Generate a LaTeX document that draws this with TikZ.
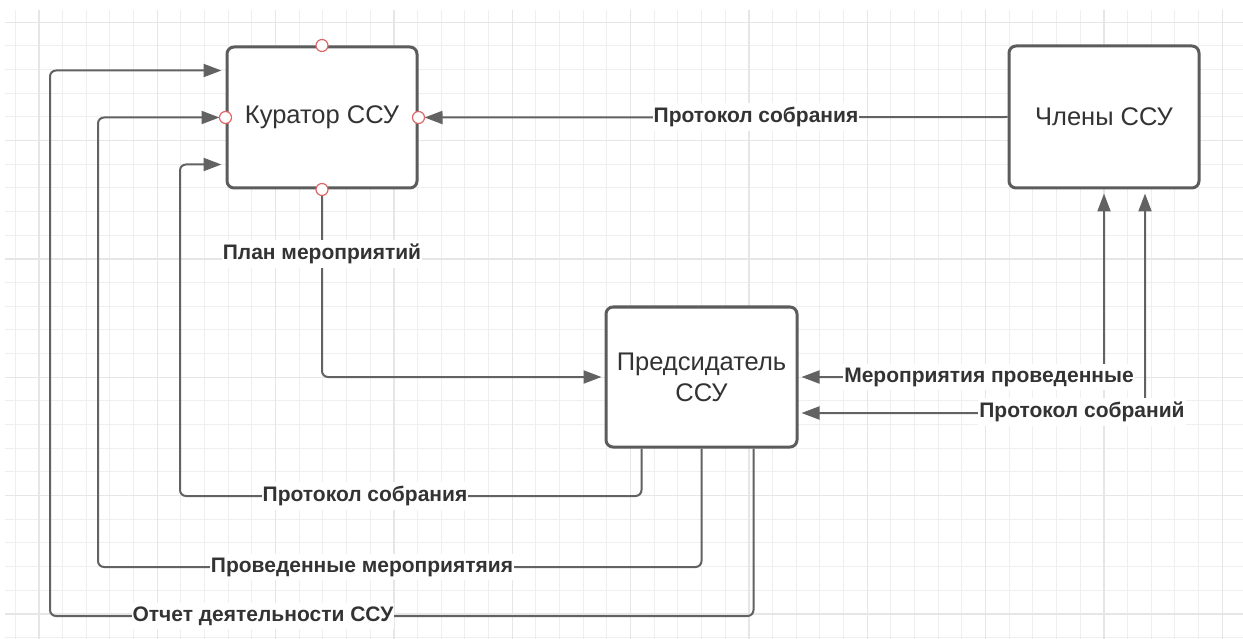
\documentclass[tikz,border=0pt]{standalone}
\usepackage{fontspec}
\setmainfont{Liberation Sans}
\usetikzlibrary{arrows.meta}

\definecolor{gridminor}{HTML}{EFEFEF}
\definecolor{gridmajor}{HTML}{E6E6E6}
\definecolor{boxline}{HTML}{5C5C5C}
\definecolor{wire}{HTML}{626262}
\definecolor{ink}{HTML}{333333}
\definecolor{pin}{HTML}{E06666}

\tikzset{
  block/.style={draw=boxline, line width=3pt, rounded corners=7pt, fill=white,
    text=ink, align=center, font=\fontsize{25.5}{31}\selectfont,
    minimum width=190pt, minimum height=141pt, inner sep=0pt},
  wire/.style={draw=wire, line width=2pt, rounded corners=6pt},
  tip/.style={-{Triangle[length=18pt,width=13pt]}},
  bothtips/.style={{Triangle[length=18pt,width=13pt]}-{Triangle[length=18pt,width=13pt]}},
  flowlabel/.style={fill=white, text=ink, inner xsep=1pt, inner ysep=4pt,
    font=\bfseries\fontsize{21}{25}\selectfont},
  pinmark/.style={circle, draw=pin, line width=1.2pt, fill=white,
    minimum size=12pt, inner sep=0pt}
}

\begin{document}
\begin{tikzpicture}[x=1pt, y=-1pt]
  \useasboundingbox (0,0) rectangle (1243,639);
  \fill[white] (0,0) rectangle (1243,639);

  % background grid: fine lines, a stronger one every fifth
  \foreach \i in {0,...,51} {
    \pgfmathsetmacro\gx{15.3+23.667*\i}
    \draw[gridminor, line width=1pt] (\gx,10) -- (\gx,639);
  }
  \foreach \j in {0,...,26} {
    \pgfmathsetmacro\gy{22.3+23.667*\j}
    \draw[gridminor, line width=1pt] (5,\gy) -- (1243,\gy);
  }
  \foreach \i in {0,...,10} {
    \pgfmathsetmacro\gx{39+118.33*\i}
    \draw[gridmajor, line width=1.2pt] (\gx,10) -- (\gx,639);
  }
  \foreach \j in {0,...,5} {
    \pgfmathsetmacro\gy{22.3+118.33*\j}
    \draw[gridmajor, line width=1.2pt] (5,\gy) -- (1243,\gy);
  }

  % participants
  \node[block] (kur)  at (322,117.5) {Куратор ССУ};
  \node[block, minimum height=142pt] (chl) at (1104,117) {Члены ССУ};
  \node[block, minimum width=191pt, minimum height=140pt] (pred) at (701.5,377)
    {Предсидатель\\ССУ};

  % curator -> chairman
  \draw[wire, tip] (kur.south) |- ([shift={(-3,0)}]pred.west);
  \node[flowlabel] (lplan) at (322,254) {План мероприятий};

  % members -> curator
  \draw[wire, tip] (chl.west) -- ([shift={(6,0)}]kur.east);
  \node[flowlabel] (lprot1) at (756,117) {Протокол собрания};

  % chairman <-> members
  \draw[wire, bothtips] ([shift={(3,0)}]pred.east) -| ([shift={(0,4)}]chl.south);
  \draw[wire, bothtips] ([shift={(3,36)}]pred.east) -| ([shift={(41,4)}]chl.south);
  \node[flowlabel] (lmer) at (989,377) {Мероприятия проведенные};
  \node[flowlabel] (lprot2) at (1082,412) {Протокол собраний};

  % chairman -> curator, routed underneath
  \coordinate (r1) at (180,496);
  \coordinate (r2) at (98,567);
  \coordinate (r3) at (50,616);
  \draw[wire, tip] ([shift={(-60,0)}]pred.south) |- (r1) |- ([shift={(-4,47)}]kur.west);
  \draw[wire, tip] (pred.south) |- (r2) |- ([shift={(-6,0)}]kur.west);
  \draw[wire, tip] ([shift={(52,0)}]pred.south) |- (r3) |- ([shift={(-4,-47)}]kur.west);
  \node[flowlabel] (lprot3) at (365,496) {Протокол собрания};
  \node[flowlabel] (lprov)  at (362,567) {Проведенные мероприятяия};
  \node[flowlabel] (lotch)  at (263,616) {Отчет деятельности ССУ};

  % connection points on the curator box
  \node[pinmark] (pn) at (kur.north) {};
  \node[pinmark] (ps) at (kur.south) {};
  \node[pinmark] (pw) at (kur.west)  {};
  \node[pinmark] (pe) at (kur.east)  {};
\end{tikzpicture}
\end{document}
